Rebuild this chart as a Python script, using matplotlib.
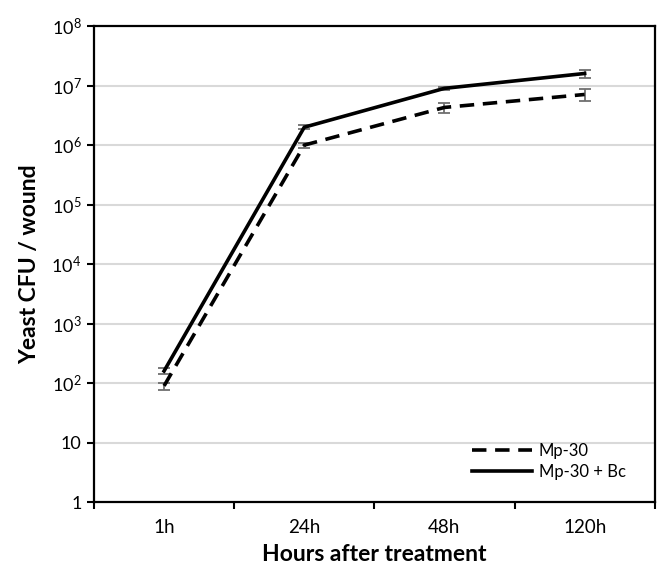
import numpy as np
import matplotlib.pyplot as plt

plt.rcParams['font.family'] = ['Lato', 'DejaVu Sans']
plt.rcParams['mathtext.fontset'] = 'custom'
plt.rcParams['mathtext.rm'] = 'Lato'

# Data
hours = ['1h', '24h', '48h', '120h']
mp30 = [90, 1.0e6, 4.3e6, 7.1e6]
mp30_err = [12, 0.1e6, 0.8e6, 1.6e6]
mp30_bc = [160, 2.0e6, 9.0e6, 1.6e7]
mp30_bc_err = [20, 0.15e6, 0.5e6, 0.25e7]
ytick_vals = [1, 10, 1e2, 1e3, 1e4, 1e5, 1e6, 1e7, 1e8]
ytick_labels = ['1', '10', r'$\mathregular{10^2}$', r'$\mathregular{10^3}$', r'$\mathregular{10^4}$',
                r'$\mathregular{10^5}$', r'$\mathregular{10^6}$', r'$\mathregular{10^7}$', r'$\mathregular{10^8}$']

fig = plt.figure(figsize=(6.62, 5.68), dpi=100)
ax = fig.add_axes([0.142, 0.116, 0.847, 0.838])

x = np.arange(len(hours))
ax.errorbar(x, mp30, yerr=mp30_err, color='black', lw=2.6, dashes=(4, 2.4),
            ecolor='#6e6e6e', elinewidth=1.3, capsize=4, capthick=1.3, label='Mp-30', zorder=3)
ax.errorbar(x, mp30_bc, yerr=mp30_bc_err, color='black', lw=2.6,
            ecolor='#6e6e6e', elinewidth=1.3, capsize=4, capthick=1.3, label='Mp-30 + Bc', zorder=3)

ax.set_yscale('log')
ax.set_ylim(1, 1e8)
ax.set_yticks(ytick_vals)
ax.set_yticklabels(ytick_labels)
ax.minorticks_off()
ax.set_xlim(-0.5, 3.5)
ax.set_xticks(x)
ax.set_xticklabels(hours)
ax.set_xticks(np.arange(-0.5, 4, 1), minor=True)
ax.tick_params(axis='x', which='major', length=0, pad=12, labelsize=13.5)
ax.tick_params(axis='x', which='minor', length=5, width=1.5, direction='out')
ax.tick_params(axis='y', length=5, width=1.5, direction='out', labelsize=13, pad=4)

for y in ytick_vals[1:-1]:
    ax.axhline(y, color='#d9d9d9', lw=1.5, zorder=0)

for s in ax.spines.values():
    s.set_linewidth(1.6)

ax.set_xlabel('Hours after treatment', fontsize=16.5, fontweight='bold', labelpad=6)
ax.set_ylabel('Yeast CFU / wound', fontsize=16.5, fontweight='bold', labelpad=8)

handles, labels = ax.get_legend_handles_labels()
handles = [h[0] for h in handles]
ax.legend(handles, labels, loc='lower right', bbox_to_anchor=(0.975, 0.015), frameon=False,
          fontsize=12, handlelength=3.6, handletextpad=0.4, labelspacing=0.3)

fig.savefig('out.png', dpi=100)
